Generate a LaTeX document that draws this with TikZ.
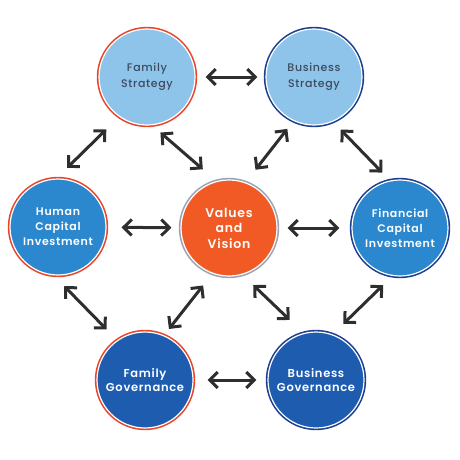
\documentclass[tikz,border=0pt]{standalone}
\usepackage{fontspec}
\newfontfamily\diafont{Poppins Medium}[LetterSpace=6]
\newfontfamily\diabold{Poppins SemiBold}[LetterSpace=6]
\usetikzlibrary{arrows.meta}
\definecolor{skyfill}{HTML}{8FC4EA}
\definecolor{slatetext}{HTML}{3B4A5E}
\definecolor{midblue}{HTML}{2B88CF}
\definecolor{deepblue}{HTML}{1E5CB0}
\definecolor{vorange}{HTML}{F15A24}
\definecolor{famred}{HTML}{E8462A}
\definecolor{busnavy}{HTML}{1D3F8F}
\definecolor{ringgrey}{HTML}{9AA3B5}
\definecolor{arrowgrey}{HTML}{2E2E2E}

\begin{document}
\begin{tikzpicture}[
  x=1pt, y=-1pt,
  pillar/.style={circle, minimum size=96pt, inner sep=0pt, align=center,
                 preaction={draw=#1, line width=4.4pt}, draw=white, line width=1.2pt,
                 font=\diabold\fontsize{11}{15}\selectfont},
  strat/.style={pillar=#1, fill=skyfill, text=slatetext,
                font=\diafont\fontsize{11}{16}\selectfont},
  capital/.style={pillar=#1, fill=midblue, text=white},
  govern/.style={pillar=#1, fill=deepblue, text=white,
                 font=\diabold\fontsize{11.5}{14.5}\selectfont},
  core/.style={pillar=ringgrey, fill=vorange, text=white,
               font=\diabold\fontsize{12.5}{15.5}\selectfont},
  link/.style={{Straight Barb[length=8pt,width=16pt]}-{Straight Barb[length=8pt,width=16pt]},
               line width=3pt, draw=arrowgrey, line cap=round}
]
\useasboundingbox (0,0) rectangle (460,460);

\node[strat=famred]   (famstrat) at (147,77)  {Family\\Strategy};
\node[strat=busnavy]  (busstrat) at (314,77)  {Business\\Strategy};
\node[capital=famred] (humcap)   at (58,227)  {Human\\Capital\\Investment};
\node[core]           (values)   at (229,228) {Values\\and\\Vision};
\node[capital=busnavy](fincap)   at (400,228) {Financial\\Capital\\Investment};
\node[govern=famred]  (famgov)   at (145,380) {Family\\Governance};
\node[govern=busnavy] (busgov)   at (316,380) {Business\\Governance};

% strategy row
\draw[link, shorten <=10pt, shorten >=8pt]  (famstrat) -- (busstrat);
\draw[link, shorten <=18pt, shorten >=15pt] (famstrat.235) -- (humcap.92);
\draw[link, shorten <=11pt, shorten >=18pt] (famstrat.276) -- (values.105);
\draw[link, shorten <=10pt, shorten >=16pt] (busstrat.245) -- (values.70);
\draw[link, shorten <=11pt, shorten >=11pt] (busstrat.293) -- (fincap.102);
% middle row
\draw[link, shorten <=15pt, shorten >=9pt]  (humcap) -- (values);
\draw[link, shorten <=10pt, shorten >=12pt] (values) -- (fincap);
% governance row
\draw[link, shorten <=15pt, shorten >=15pt] (humcap.265) -- (famgov.125);
\draw[link, shorten <=15pt, shorten >=8pt]  (values.250) -- (famgov.67);
\draw[link, shorten <=15pt, shorten >=19pt] (values.286) -- (busgov.105);
\draw[link, shorten <=13pt, shorten >=15pt] (fincap.261) -- (busgov.70);
\draw[link, shorten <=14pt, shorten >=11pt] (famgov) -- (busgov);
\end{tikzpicture}
\end{document}
